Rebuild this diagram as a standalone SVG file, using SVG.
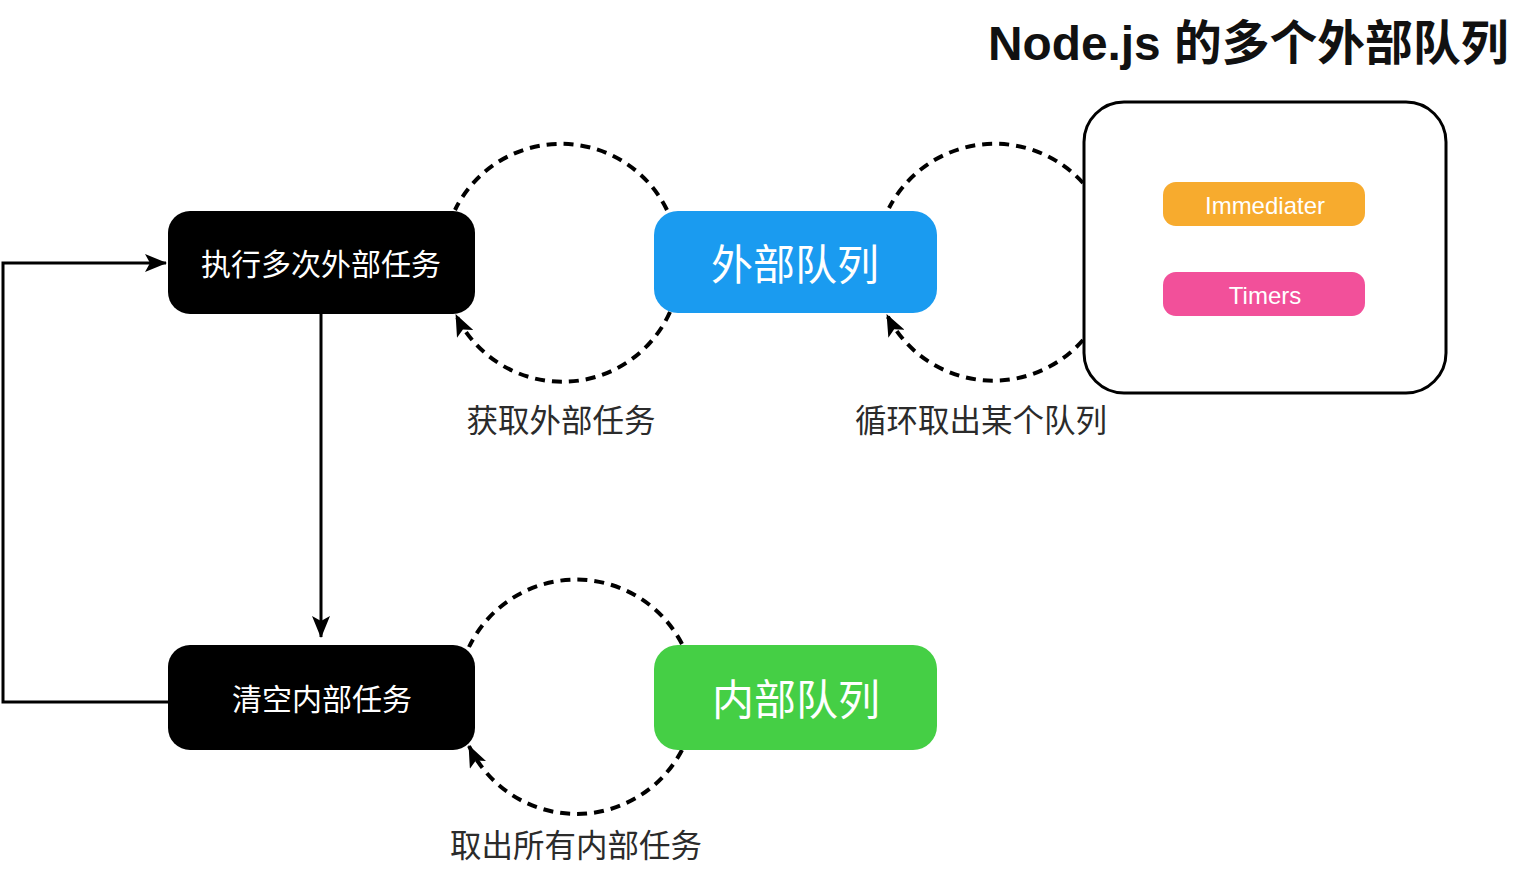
<svg xmlns="http://www.w3.org/2000/svg" width="1518" height="876" viewBox="0 0 1518 876">
  <style>
    .cjk { font-family: "Noto Sans CJK SC", "Liberation Sans", sans-serif; }
    .node-text { fill: #ffffff; text-anchor: middle; dominant-baseline: central; }
    .label { fill: #2b2b2b; font-size: 31.5px; text-anchor: middle; }
    .pill-text { font-family: "Liberation Sans", Arial, sans-serif; font-size: 24px; fill: #ffffff; text-anchor: middle; dominant-baseline: central; }
    .dashed { fill: none; stroke: #000000; stroke-width: 4; stroke-dasharray: 10 7; }
    .solid { fill: none; stroke: #000000; stroke-width: 3; }
  </style>
  <defs>
    <marker id="arrow" viewBox="0 0 22 18" refX="21" refY="9" markerWidth="22" markerHeight="18" markerUnits="userSpaceOnUse" orient="auto">
      <path d="M0 0 L22 9 L0 18 L5 9 Z" fill="#000000"/>
    </marker>
  </defs>
  <rect x="0" y="0" width="1518" height="876" fill="#ffffff"/>

  <text id="title" x="988" y="60" font-family="'Liberation Sans', 'Noto Sans CJK SC', sans-serif" font-weight="bold" font-size="47.8" fill="#111111">Node.js 的多个外部队列</text>

  <g id="connectors">
    <path class="dashed" d="M 667 210 A 118 118 0 0 0 455 210"/>
    <path class="dashed" d="M 670 312 A 118 118 0 0 1 456 315" marker-end="url(#arrow)"/>
    <path class="dashed" d="M 1083 183 A 119 119 0 0 0 889 208"/>
    <path class="dashed" d="M 1083 340 A 119 119 0 0 1 887 315" marker-end="url(#arrow)"/>
    <path class="dashed" d="M 682 644 A 119 119 0 0 0 469 647"/>
    <path class="dashed" d="M 682 750 A 119 119 0 0 1 469 746" marker-end="url(#arrow)"/>
    <path class="solid" d="M 321 314 L 321 637" marker-end="url(#arrow)"/>
    <path class="solid" d="M 168 702 L 3 702 L 3 263 L 166 263" marker-end="url(#arrow)"/>
  </g>

  <g id="node-exec">
    <rect x="168" y="211" width="307" height="103" rx="22" fill="#000000"/>
    <text class="cjk node-text" x="321" y="262" font-size="30">执行多次外部任务</text>
  </g>

  <g id="node-outer-queue">
    <rect x="654" y="211" width="283" height="102" rx="24" fill="#1a9bf0"/>
    <text class="cjk node-text" x="795" y="261" font-size="42">外部队列</text>
  </g>

  <g id="node-clear">
    <rect x="168" y="645" width="307" height="105" rx="22" fill="#000000"/>
    <text class="cjk node-text" x="322" y="697" font-size="30">清空内部任务</text>
  </g>

  <g id="node-inner-queue">
    <rect x="654" y="645" width="283" height="105" rx="24" fill="#45cf45"/>
    <text class="cjk node-text" x="796" y="696" font-size="42">内部队列</text>
  </g>

  <g id="node-queues">
    <rect x="1084" y="102" width="362" height="291" rx="40" fill="#ffffff" stroke="#000000" stroke-width="3"/>
    <g id="node-immediater">
      <rect x="1163" y="182" width="202" height="44" rx="13" fill="#f7ab2e"/>
      <text class="pill-text" x="1265" y="205">Immediater</text>
    </g>
    <g id="node-timers">
      <rect x="1163" y="272" width="202" height="44" rx="13" fill="#f2509a"/>
      <text class="pill-text" x="1265" y="295">Timers</text>
    </g>
  </g>

  <g id="labels">
    <text class="cjk label" x="561" y="432">获取外部任务</text>
    <text class="cjk label" x="981" y="432">循环取出某个队列</text>
    <text class="cjk label" x="576" y="857">取出所有内部任务</text>
  </g>
</svg>
